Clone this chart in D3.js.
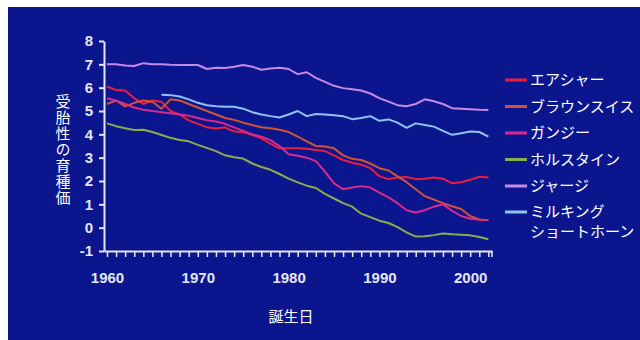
<!DOCTYPE html>
<html>
<head>
<meta charset="utf-8">
<script src="https://cdn.jsdelivr.net/npm/d3@7"></script>
<style>
  body { margin: 0; background: #fff; }
  svg { display: block; }
</style>
</head>
<body>
<div id="chart"></div>
<script>
// データ
const years = d3.range(1960, 2003);
const yTicks = [-1, 0, 1, 2, 3, 4, 5, 6, 7, 8];
const xLabels = [1960, 1970, 1980, 1990, 2000];

const ayrshire = [6.05, 5.9, 5.88, 5.55, 5.3, 5.45, 5.4, 5.0, 4.85, 4.6, 4.45, 4.3, 4.25, 4.3, 4.12, 4.1, 3.97, 3.83, 3.6, 3.4, 3.4, 3.4, 3.38, 3.33, 3.28, 3.1, 2.9, 2.78, 2.7, 2.55, 2.2, 2.08, 2.15, 2.17, 2.08, 2.1, 2.15, 2.1, 1.9, 1.95, 2.05, 2.18, 2.15];
const brownSwiss = [5.3, 5.45, 5.2, 5.35, 5.45, 5.4, 5.1, 5.5, 5.45, 5.3, 5.15, 5.0, 4.85, 4.7, 4.62, 4.5, 4.4, 4.3, 4.26, 4.2, 4.1, 3.9, 3.7, 3.5, 3.48, 3.4, 3.1, 2.95, 2.9, 2.75, 2.55, 2.45, 2.2, 1.95, 1.65, 1.35, 1.2, 1.05, 0.92, 0.8, 0.5, 0.35, 0.32];
const guernsey = [5.55, 5.45, 5.3, 5.15, 5.05, 5.0, 4.95, 4.9, 4.85, 4.8, 4.7, 4.6, 4.55, 4.45, 4.3, 4.15, 4.0, 3.9, 3.75, 3.5, 3.15, 3.08, 3.0, 2.85, 2.4, 1.9, 1.65, 1.72, 1.78, 1.72, 1.5, 1.3, 1.05, 0.75, 0.65, 0.75, 0.9, 1.0, 0.72, 0.5, 0.38, 0.34, 0.33];
const holstein = [4.47, 4.35, 4.26, 4.19, 4.2, 4.1, 3.97, 3.85, 3.76, 3.7, 3.55, 3.42, 3.28, 3.1, 3.02, 2.96, 2.75, 2.6, 2.48, 2.3, 2.1, 1.94, 1.8, 1.7, 1.45, 1.25, 1.05, 0.9, 0.6, 0.45, 0.3, 0.2, 0.02, -0.2, -0.38, -0.37, -0.32, -0.25, -0.28, -0.3, -0.33, -0.4, -0.5];
const jersey = [7.0, 7.0, 6.95, 6.93, 7.05, 7.0, 7.0, 6.98, 6.97, 6.97, 6.97, 6.8, 6.85, 6.84, 6.9, 6.97, 6.9, 6.77, 6.82, 6.85, 6.8, 6.58, 6.66, 6.42, 6.25, 6.08, 5.98, 5.93, 5.88, 5.75, 5.55, 5.4, 5.25, 5.2, 5.3, 5.5, 5.42, 5.3, 5.12, 5.1, 5.08, 5.05, 5.04];
// ミルキングショートホーンは1966年から
const shorthornYears = d3.range(1966, 2003);
const shorthorn = [5.7, 5.68, 5.62, 5.5, 5.35, 5.25, 5.2, 5.18, 5.18, 5.1, 4.95, 4.85, 4.78, 4.72, 4.85, 5.0, 4.78, 4.87, 4.85, 4.82, 4.78, 4.65, 4.7, 4.78, 4.58, 4.64, 4.5, 4.28, 4.47, 4.4, 4.33, 4.15, 3.98, 4.05, 4.12, 4.1, 3.9];

const seriesNames = ["エアシャー", "ブラウンスイス", "ガンジー", "ホルスタイン", "ジャージ", ["ミルキング", "ショートホーン"]];
const seriesColors = ["#e8203e", "#cf5436", "#d82a8c", "#8aae4e", "#c68ae4", "#8ec4f0"];

const series = [
    { x: years, y: ayrshire },
    { x: years, y: brownSwiss },
    { x: years, y: guernsey },
    { x: years, y: holstein },
    { x: years, y: jersey },
    { x: shorthornYears, y: shorthorn }
];

const width = 640;
const height = 340;

const svg = d3.select("#chart").append("svg")
    .attr("width", width)
    .attr("height", height);

// 背景
svg.append("rect")
    .attr("x", 8).attr("y", 7)
    .attr("width", width - 8).attr("height", height - 7)
    .attr("fill", "#0b158e");

const x = d3.scaleLinear().domain([1959.67, 2002.4]).range([104, 492]);
const y = d3.scaleLinear().domain([-1, 8]).range([251, 41]);

const axisColor = "#e4e6f4";
const tickFont = "'Liberation Sans Narrow', 'Liberation Sans', Arial, sans-serif";

// Y軸
const yAxis = svg.append("g")
    .attr("transform", "translate(104,0)")
    .call(d3.axisLeft(y).tickValues(yTicks).tickSize(5).tickSizeOuter(0).tickPadding(6)
        .tickFormat(d => String(d)));
yAxis.select(".domain").attr("stroke", axisColor).attr("stroke-width", 2);
yAxis.selectAll(".tick line").attr("stroke", axisColor).attr("stroke-width", 2);
yAxis.selectAll(".tick text")
    .attr("fill", axisColor)
    .style("font-family", tickFont)
    .style("font-weight", "bold")
    .style("font-size", "15px");

// X軸
const xAxis = svg.append("g")
    .attr("transform", "translate(0,251)")
    .call(d3.axisBottom(x).tickValues(years).tickSize(6).tickSizeOuter(0).tickPadding(15)
        .tickFormat(d => xLabels.includes(d) ? d : ""));
xAxis.select(".domain").attr("stroke", axisColor).attr("stroke-width", 2);
xAxis.selectAll(".tick line").attr("stroke", axisColor).attr("stroke-width", 1.5);
xAxis.selectAll(".tick text")
    .attr("fill", axisColor)
    .style("font-family", tickFont)
    .style("font-weight", "bold")
    .style("font-size", "15px");
// 末尾の目盛り
xAxis.append("line")
    .attr("x1", 492).attr("x2", 492).attr("y1", 0).attr("y2", 6)
    .attr("stroke", axisColor).attr("stroke-width", 1.5);

// 線
const line = d3.line()
    .x(d => x(d[0]))
    .y(d => y(d[1]));

series.forEach((s, i) => {
    svg.append("path")
        .datum(s.x.map((yr, j) => [yr, s.y[j]]))
        .attr("fill", "none")
        .attr("stroke", seriesColors[i])
        .attr("stroke-width", 2)
        .attr("stroke-linejoin", "round")
        .attr("d", line);
});

// 軸タイトル（縦書き）
const jpFont = "'Noto Sans CJK JP', sans-serif";
svg.append("text")
    .attr("x", 63).attr("y", 94)
    .attr("fill", "#fff")
    .style("font-family", jpFont)
    .style("font-size", "15px")
    .style("writing-mode", "vertical-rl")
    .style("text-orientation", "upright")
    .style("letter-spacing", "1px")
    .text("受胎性の育種価");

svg.append("text")
    .attr("x", 291).attr("y", 322)
    .attr("text-anchor", "middle")
    .attr("fill", "#fff")
    .style("font-family", jpFont)
    .style("font-size", "15px")
    .text("誕生日");

// 凡例
const legendY = [80, 106.5, 133, 159.5, 186, 212];
const legend = svg.append("g");
seriesNames.forEach((name, i) => {
    legend.append("line")
        .attr("x1", 505).attr("x2", 527)
        .attr("y1", legendY[i]).attr("y2", legendY[i])
        .attr("stroke", seriesColors[i])
        .attr("stroke-width", 3);
    const lines = Array.isArray(name) ? name : [name];
    const txt = legend.append("text")
        .attr("x", 530)
        .attr("y", legendY[i] + 5)
        .attr("fill", "#fff")
        .style("font-family", jpFont)
        .style("font-size", "15px");
    lines.forEach((t, k) => {
        txt.append("tspan")
            .attr("x", 530)
            .attr("dy", k === 0 ? 0 : 20)
            .text(t);
    });
});
</script>
</body>
</html>
